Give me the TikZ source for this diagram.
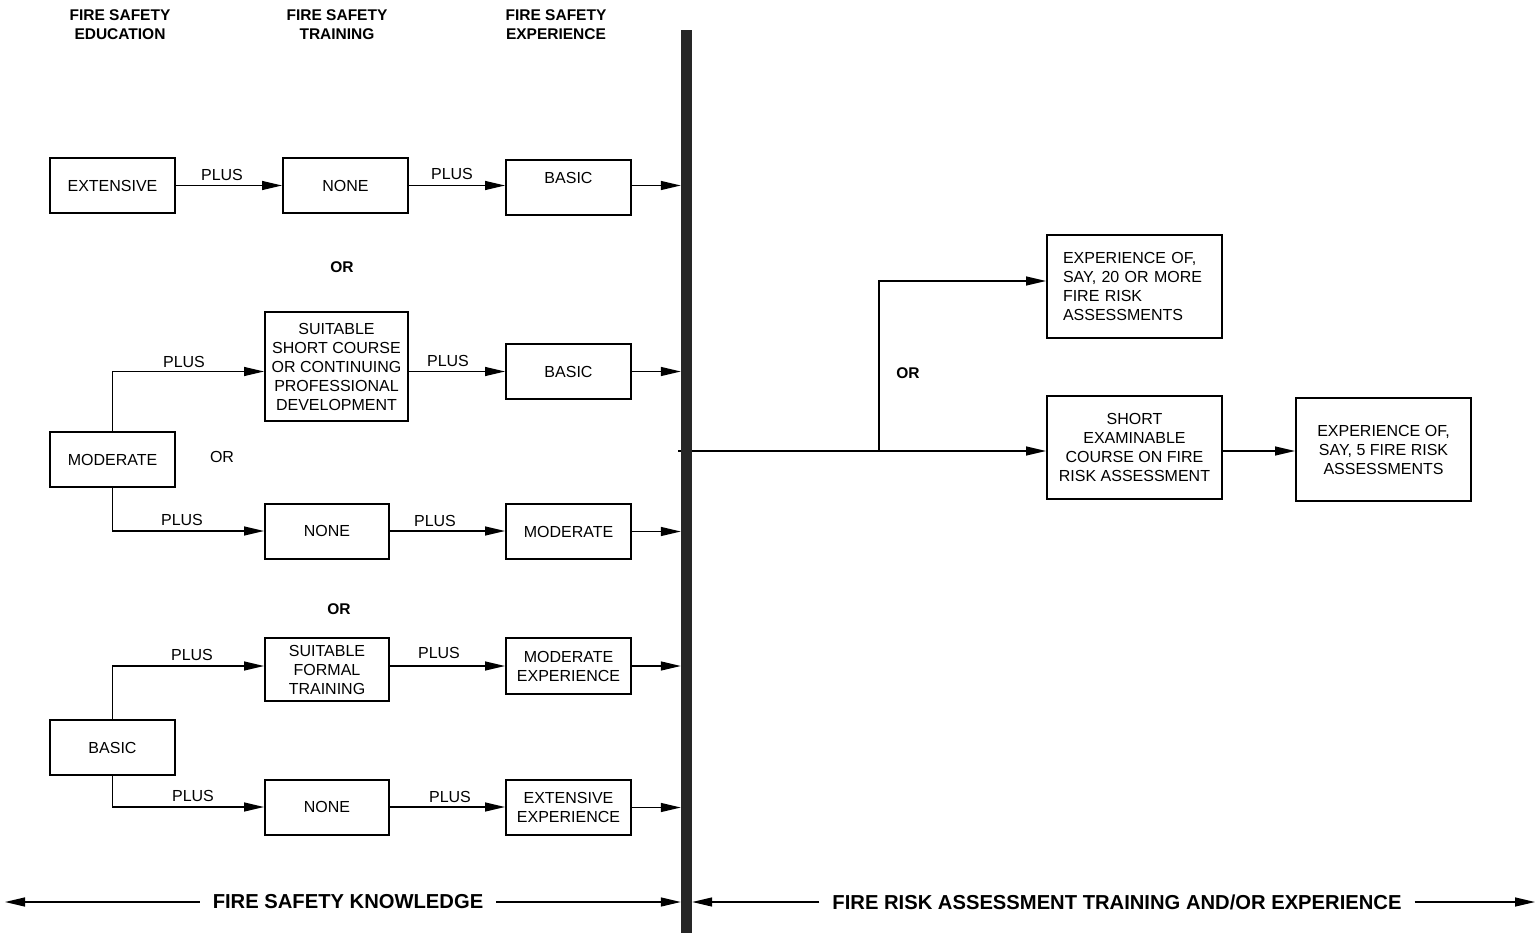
\documentclass[tikz,border=0pt]{standalone}
\usepackage{fontspec}
\setmainfont{Liberation Sans}
\usetikzlibrary{arrows.meta}
\begin{document}
\begin{tikzpicture}[x=1pt,y=-1pt,
  body/.style={font=\fontsize{16}{19}\selectfont},
  hdr/.style={font=\fontsize{15.5}{19}\selectfont\bfseries, align=center},
  orb/.style={font=\fontsize{15.5}{19}\selectfont\bfseries},
  box/.style={draw, line width=2pt, body, align=center, inner sep=0pt, minimum width=125pt, minimum height=55pt},
  bigbox/.style={box, minimum width=175pt, minimum height=103pt},
  lbl/.style={body, inner sep=0pt},
  arr/.style={line width=1.3pt, -{Triangle[length=20pt,width=9pt]}},
  ln/.style={line width=1.3pt},
  foot/.style={font=\fontsize{20.2}{24}\selectfont\bfseries, inner sep=13pt}
]
\useasboundingbox (0,0) rectangle (1539,933);

% the separating bar
\node[fill=black!85, inner sep=0pt, minimum width=11pt, minimum height=903pt] (bar) at (686.5,481.5) {};

% headers
\node[hdr] (h1) at (120,25) {FIRE SAFETY\\EDUCATION};
\node[hdr] (h2) at (337,25) {FIRE SAFETY\\TRAINING};
\node[hdr] (h3) at (556,25) {FIRE SAFETY\\EXPERIENCE};

% row 1
\node[box] (e1) at (112.5,185.5) {EXTENSIVE};
\node[box] (t1) at (345.5,185.5) {NONE};
\node[box, label={[body, yshift=10pt]center:BASIC}] (x1) at (568.5,187.5) {};
\draw[arr] (e1.east) -- (t1.west);
\draw[arr] (t1.east) -- (t1.east -| x1.west);
\draw[arr] (x1.east |- t1) -- (t1 -| bar.west);
\node[lbl] (p1) at (222,175) {PLUS};
\node[lbl] (p2) at (452,174) {PLUS};

\node[orb] (or1) at (342,267) {OR};

% rows 2 and 3
\node[box, minimum width=143pt, minimum height=109pt] (t2) at (336.5,366.5) {SUITABLE\\SHORT COURSE\\OR CONTINUING\\PROFESSIONAL\\DEVELOPMENT};
\node[box] (x2) at (568.5,371.5) {BASIC};
\node[box] (e2) at (112.5,459.5) {MODERATE};
\node[box, minimum width=124pt] (t3) at (327,531) {NONE};
\node[box] (x3) at (568.5,531.5) {MODERATE};
\draw[arr] (e2.north) |- (t2.west |- x2);
\draw[arr] (t2.east |- x2) -- (x2.west);
\draw[arr] (x2.east) -- (x2 -| bar.west);
\draw[arr] (e2.south) |- (t3.west);
\draw[arr] (t3.east) -- (t3.east -| x3.west);
\draw[arr] (x3.east) -- (x3 -| bar.west);
\node[lbl] (p3) at (184,362) {PLUS};
\node[lbl] (p4) at (448,361) {PLUS};
\node[lbl] (or2) at (222,457) {OR};
\node[lbl] (p5) at (182,520) {PLUS};
\node[lbl] (p6) at (435,521) {PLUS};

\node[orb] (or3) at (339,609) {OR};

% rows 4 and 5
\node[box, minimum width=124pt, minimum height=63pt] (t4) at (327,669.5) {SUITABLE\\FORMAL\\TRAINING};
\node[box, minimum height=56pt] (x4) at (568.5,666) {MODERATE\\EXPERIENCE};
\node[box] (e3) at (112.5,747.5) {BASIC};
\node[box, minimum width=124pt] (t5) at (327,807) {NONE};
\node[box] (x5) at (568.5,807.5) {EXTENSIVE\\EXPERIENCE};
\draw[arr] (e3.north) |- (t4.west |- x4);
\draw[arr] (t4.east |- x4) -- (x4.west);
\draw[arr] (x4.east) -- (x4 -| bar.west);
\draw[arr] (e3.south) |- (t5.west);
\draw[arr] (t5.east) -- (t5.east -| x5.west);
\draw[arr] (x5.east) -- (x5 -| bar.west);
\node[lbl] (p7) at (192,655) {PLUS};
\node[lbl] (p8) at (439,653) {PLUS};
\node[lbl] (p9) at (193,796) {PLUS};
\node[lbl] (p10) at (450,797) {PLUS};

% right side
\node[bigbox, align=left, text width=143pt] (r1) at (1134.5,286.5) {EXPERIENCE OF,\\SAY, 20 OR MORE\\FIRE RISK\\ASSESSMENTS};
\node[bigbox] (r2) at (1134.5,447.5) {SHORT\\EXAMINABLE\\COURSE ON FIRE\\RISK ASSESSMENT};
\node[bigbox] (r3) at (1383.5,449.5) {EXPERIENCE OF,\\SAY, 5 FIRE RISK\\ASSESSMENTS};
\coordinate (s) at (879,451);
\draw[ln] (s -| bar.west) -- ++(-3,0);
\draw[arr] (s -| bar.east) -- (s) -- (s -| r2.west);
\draw[arr] (s) |- ([yshift=5.5pt]r1.west);
\draw[arr] (s -| r2.east) -- (s -| r3.west);
\node[orb] (or4) at (908,373) {OR};

% bottom labels
\node[foot] (k1) at (348,902) {FIRE SAFETY KNOWLEDGE};
\node[foot] (k2) at (1117,902) {FIRE RISK ASSESSMENT TRAINING AND/OR EXPERIENCE};
\coordinate (lend) at (5,902);
\coordinate (rend) at (1535,902);
\draw[arr] (k1.west) -- (lend);
\draw[arr] (k1.east) -- (k1 -| bar.west);
\draw[arr] (k2.west) -- (k2 -| bar.east);
\draw[arr] (k2.east) -- (rend);
\end{tikzpicture}
\end{document}
